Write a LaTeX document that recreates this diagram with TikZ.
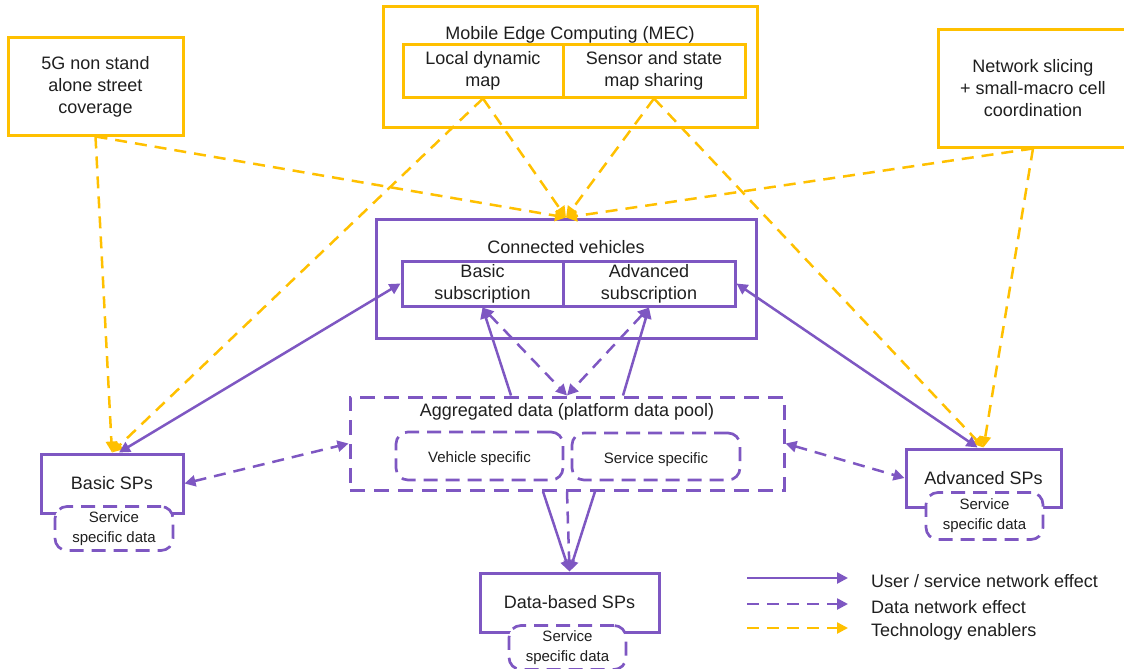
\documentclass[tikz,border=0pt]{standalone}
\usepackage{fontspec}
\setmainfont{Liberation Sans}
\usetikzlibrary{arrows.meta}

\definecolor{techorange}{HTML}{FFC000}
\definecolor{netpurple}{HTML}{7E57C2}
\definecolor{txtgray}{HTML}{1F1F1F}

\tikzset{
  techbox/.style={draw=techorange,line width=3pt,align=center,inner sep=0pt},
  platbox/.style={draw=netpurple,line width=3pt,align=center,inner sep=0pt},
  poolbox/.style={draw=netpurple,line width=3pt,dash pattern=on 15pt off 9pt},
  databox/.style={draw=netpurple,line width=2.7pt,dash pattern=on 14pt off 8pt,rounded corners=12pt,
    fill=white,align=center,inner sep=0pt,font=\fontsize{15}{20}\selectfont},
  useredge/.style={netpurple,line width=2.5pt,->},
  dataedge/.style={netpurple,line width=2.5pt,dash pattern=on 12pt off 8pt,->},
  techedge/.style={techorange,line width=2.5pt,dash pattern=on 12pt off 8pt,->},
}

\begin{document}
\begin{tikzpicture}[x=1pt,y=-1pt,font=\fontsize{18}{22}\selectfont,text=txtgray,
    >={Triangle[length=11pt,width=11pt]}]
    \useasboundingbox (0,0) rectangle (1124,669);

    % Technology enablers (top row)
    \node[techbox,minimum width=175pt,minimum height=97pt] (gfive) at (95.5,86.5) {5G non stand\\alone street\\coverage};
    \node[techbox,minimum width=374pt,minimum height=120pt] (mec) at (570,67) {};
    \node (mectitle) at (570,35) {Mobile Edge Computing (MEC)};
    \node[techbox,minimum width=160pt,minimum height=52pt] (ldm) at (483,71) {Local dynamic\\map};
    \node[techbox,minimum width=182pt,minimum height=52pt] (ssm) at (654,71) {Sensor and state\\map sharing};
    \node[techbox,minimum width=190pt,minimum height=117pt] (slicing) at (1033,88.5) {Network slicing\\+ small-macro cell\\coordination};

    % Connected vehicles
    \node[platbox,minimum width=380pt,minimum height=119pt] (cv) at (566,278.5) {};
    \node (cvtitle) at (566,247) {Connected vehicles};
    \node[platbox,minimum width=161pt,minimum height=45pt] (bsub) at (482.5,283.5) {Basic\\subscription};
    \node[platbox,minimum width=172pt,minimum height=45pt] (asub) at (649,283.5) {Advanced\\subscription};

    % Platform data pool
    \node[poolbox,minimum width=434pt,minimum height=93pt] (agg) at (567,443.5) {};
    \node (aggtitle) at (567,412) {Aggregated data (platform data pool)};
    \node[databox,text height=17pt,minimum width=167pt,minimum height=48pt] (veh) at (479.5,456) {Vehicle specific};
    \node[databox,text height=17pt,minimum width=168pt,minimum height=47pt] (serv) at (656,456.5) {Service specific};

    % Service providers
    \node[platbox,minimum width=142pt,minimum height=59pt] (bsp) at (112,483.5) {Basic SPs};
    \node[databox,minimum width=118pt,minimum height=44pt] (bdata) at (114,528.5) {Service\\specific data};
    \node[platbox,minimum width=155pt,minimum height=58pt] (asp) at (983.5,478) {Advanced SPs};
    \node[databox,minimum width=117pt,minimum height=47pt] (adata) at (984.5,516) {Service\\specific data};
    \node[platbox,minimum width=179pt,minimum height=59pt] (dsp) at (569.5,602.5) {Data-based SPs};
    \node[databox,minimum width=117pt,minimum height=44pt] (ddata) at (567.5,647.5) {Service\\specific data};

    % Technology enablers
    \draw[techedge] (gfive.south) -- (bsp.north);
    \draw[techedge] (gfive.south) -- (cv.north);
    \draw[techedge] (ldm.south) -- (bsp.north);
    \draw[techedge] (ldm.south) -- (cv.north);
    \draw[techedge] (ssm.south) -- (cv.north);
    \draw[techedge] (ssm.south) -- (asp.north);
    \draw[techedge] (slicing.south) -- (cv.north);
    \draw[techedge] (slicing.south) -- (asp.north);

    % User / service network effect
    \draw[useredge,<->] ([xshift=7pt]bsp.north) -- (bsub.west);
    \draw[useredge,<->] ([xshift=-6pt]asp.north) -- (asub.east);
    \draw[useredge] ([xshift=-56pt]agg.north) -- (bsub.south);
    \draw[useredge] ([xshift=56pt]agg.north) -- (asub.south);
    \draw[useredge] ([xshift=-24pt]agg.south) -- (dsp.north);
    \draw[useredge] ([xshift=28pt]agg.south) -- (dsp.north);

    % Data network effect
    \draw[dataedge,<->] (bsub.south) -- (agg.north);
    \draw[dataedge,<->] (asub.south) -- (agg.north);
    \draw[dataedge,<->] (bsp.east) -- (agg.west);
    \draw[dataedge,<->] (agg.east) -- (asp.west);
    \draw[dataedge] (agg.south) -- (dsp.north);

    % Legend
    \coordinate (userA) at (747,578);
    \coordinate (userB) at (848,578);
    \coordinate (dataA) at (747,604);
    \coordinate (dataB) at (848,604);
    \coordinate (techA) at (747,628);
    \coordinate (techB) at (848,628);
    \draw[useredge] (userA) -- (userB);
    \draw[dataedge] (dataA) -- (dataB);
    \draw[techedge] (techA) -- (techB);
    \node[anchor=west,inner sep=0pt] (userlbl) at (871,581) {User / service network effect};
    \node[anchor=west,inner sep=0pt] (datalbl) at (871,607) {Data network effect};
    \node[anchor=west,inner sep=0pt] (techlbl) at (871,632) {Technology enablers};
\end{tikzpicture}
\end{document}
